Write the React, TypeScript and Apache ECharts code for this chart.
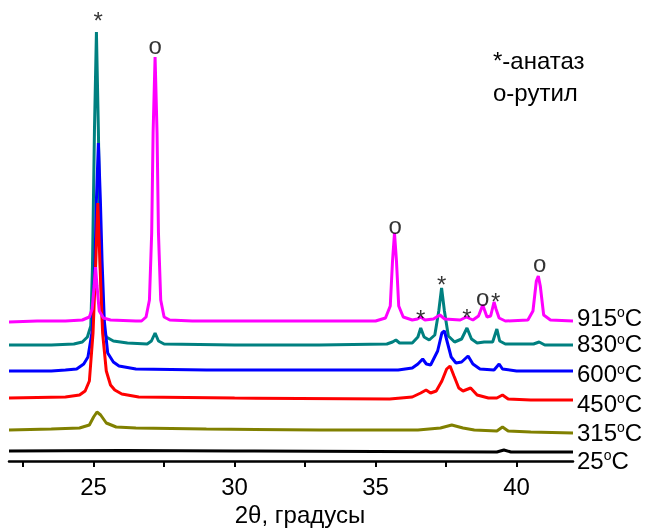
import React, { useEffect, useRef } from "react";
import * as echarts from "echarts";

// 2θ range and tick positions
const X_MIN = 22;
const X_MAX = 42;
const TICK_VALUES = [22.5, 25, 27.5, 30, 32.5, 35, 37.5, 40];
const LABEL_VALUES = [25, 30, 35, 40];

// Patterns: [2θ, intensity (arb. units)]
const p915: number[][] = [
  [22.0, 139], [23.0, 140], [24.0, 140], [24.6, 141], [24.85, 144], [24.95, 152], [25.02, 175], [25.07, 194],
  [25.12, 175], [25.2, 150], [25.35, 143], [25.6, 141], [26.5, 140], [26.7, 140], [26.86, 144], [26.98, 161],
  [27.06, 228], [27.11, 328], [27.18, 404], [27.25, 328], [27.3, 228], [27.38, 161], [27.5, 144], [27.7, 141],
  [28.5, 140], [31.0, 140], [34.0, 140], [35.0, 140], [35.35, 143], [35.52, 155], [35.6, 200], [35.67, 228],
  [35.74, 200], [35.82, 155], [35.98, 144], [36.3, 141], [36.48, 142], [36.6, 144], [36.75, 141], [37.05, 142],
  [37.28, 146], [37.45, 142], [38.0, 141], [38.22, 144], [38.45, 141], [38.65, 145], [38.8, 156], [38.95, 144],
  [39.08, 145], [39.2, 159], [39.27, 152], [39.38, 143], [39.6, 140], [40.4, 141], [40.58, 150], [40.7, 180],
  [40.77, 185], [40.84, 175], [40.96, 146], [41.2, 141], [42.0, 140],
];
const p830: number[][] = [
  [22.0, 116], [23.5, 116], [24.3, 117], [24.6, 119], [24.78, 124], [24.9, 135], [24.96, 194], [25.03, 330],
  [25.1, 429], [25.17, 330], [25.24, 194], [25.32, 135], [25.45, 124], [25.7, 120], [26.2, 118], [26.9, 117],
  [27.05, 120], [27.18, 128], [27.3, 120], [27.5, 117], [30.0, 116], [33.0, 116], [35.4, 117], [35.6, 119],
  [35.72, 121], [35.85, 118], [36.3, 118], [36.5, 124], [36.6, 133], [36.72, 124], [36.9, 121], [37.1, 126],
  [37.24, 150], [37.34, 173], [37.44, 150], [37.58, 125], [37.8, 119], [38.05, 122], [38.24, 133], [38.4, 122],
  [38.6, 118], [38.85, 119], [39.15, 119], [39.3, 132], [39.4, 120], [39.6, 117], [40.6, 117], [40.8, 119],
  [41.0, 116], [42.0, 116],
];
const p600: number[][] = [
  [22.0, 90], [23.5, 90], [24.0, 91], [24.4, 92], [24.65, 97], [24.8, 104], [24.95, 130], [25.05, 200],
  [25.1, 261], [25.17, 318], [25.24, 261], [25.3, 200], [25.38, 140], [25.5, 108], [25.7, 99], [25.9, 95],
  [26.5, 92], [29.0, 91], [33.0, 91], [35.8, 91], [36.3, 93], [36.5, 97], [36.67, 102], [36.8, 97],
  [36.95, 96], [37.2, 110], [37.35, 128], [37.44, 130], [37.55, 118], [37.68, 104], [37.85, 98], [38.05, 99],
  [38.28, 105], [38.45, 97], [38.7, 92], [39.2, 91], [39.38, 97], [39.5, 92], [40.0, 90], [42.0, 90],
];
const p450: number[][] = [
  [22.0, 63], [24.0, 64], [24.5, 66], [24.7, 70], [24.85, 80], [24.98, 128], [25.07, 194], [25.15, 258],
  [25.23, 194], [25.32, 128], [25.45, 90], [25.6, 76], [25.75, 71], [26.0, 67], [26.6, 64], [30.0, 63],
  [35.5, 62], [36.3, 64], [36.6, 68], [36.79, 71], [36.95, 68], [37.15, 70], [37.35, 80], [37.52, 92],
  [37.64, 95], [37.78, 85], [37.95, 73], [38.1, 70], [38.37, 73], [38.6, 66], [39.0, 63], [39.3, 63],
  [39.5, 66], [39.7, 62], [40.5, 61], [42.0, 61],
];
const p315: number[][] = [
  [22.0, 31], [23.5, 32], [24.5, 33], [24.85, 36], [25.0, 44], [25.12, 49], [25.25, 46], [25.45, 38],
  [25.8, 34], [26.5, 33], [29.0, 32], [33.0, 31], [36.5, 31], [37.3, 33], [37.7, 36], [38.1, 33],
  [38.5, 31], [39.3, 30], [39.5, 34], [39.7, 30], [40.5, 29], [42.0, 28],
];
const p25: number[][] = [
  [22.0, 10], [26.0, 10.5], [30.0, 10], [35.0, 9.5], [39.3, 9], [39.55, 11], [39.8, 9], [42.0, 9],
];

const SERIES_NAMES = ["25", "315", "830", "600", "450", "915"];
const SERIES_DATA = [p25, p315, p830, p600, p450, p915];
const SERIES_COLORS = ["#000000", "#808000", "#008080", "#0000ff", "#ff0000", "#ff00ff"];
const LABEL_DY = [8, -1, -1.5, 2.5, 3, -4];

// Peak marks: [2θ, height, symbol]
const MARKS: (number | string)[][] = [
  [25.16, 441, "*"], [27.18, 416, "o"], [35.69, 236, "o"], [36.6, 143, "*"], [37.34, 177, "*"],
  [38.24, 144, "*"], [38.8, 164, "o"], [39.26, 160, "*"], [40.82, 198, "o"],
];

const LEGEND_LINES = ["*-анатаз", "о-рутил"];
const AXIS_NAME = "2θ, градусы";

const FONT = "'Liberation Sans', Arial, sans-serif";

export default function App() {
  const ref = useRef<HTMLDivElement>(null);
  useEffect(() => {
    if (!ref.current) return;
    const chart = echarts.init(ref.current, undefined, { renderer: "svg" });
    const lineSeries = SERIES_DATA.map((d, i) => ({
      type: "line",
      name: SERIES_NAMES[i],
      data: d,
      symbol: "none",
      smooth: false,
      lineStyle: { color: SERIES_COLORS[i], width: 3 },
      itemStyle: { color: SERIES_COLORS[i] },
      z: 2 + i,
      endLabel: {
        show: true,
        distance: 0,
        offset: [4, LABEL_DY[i]],
        formatter: () => `{n|${SERIES_NAMES[i]}}{s|o}{n|C}`,
        rich: {
          n: { fontSize: 24, fontFamily: FONT, color: "#000" },
          s: { fontSize: 14, fontFamily: FONT, color: "#000", verticalAlign: "top" },
        },
      },
    }));
    chart.setOption({
      animation: false,
      grid: { left: 9, right: 76, top: 10, bottom: 68, containLabel: false, outerBoundsMode: "none" },
      xAxis: {
        type: "value",
        min: X_MIN,
        max: X_MAX,
        name: AXIS_NAME,
        nameLocation: "middle",
        nameGap: 40,
        nameTextStyle: { fontSize: 24, fontFamily: FONT, color: "#000", padding: [0, 0, 0, 18] },
        axisLine: { show: true, onZero: false, lineStyle: { color: "#000", width: 2.5 } },
        axisTick: { show: true, length: 6, inside: false, lineStyle: { color: "#000", width: 2 }, customValues: TICK_VALUES },
        axisLabel: { fontSize: 24, fontFamily: FONT, color: "#000", margin: 13, customValues: LABEL_VALUES },
        splitLine: { show: false },
      },
      yAxis: { type: "value", min: 0, max: 451, show: false, splitLine: { show: false } },
      series: [
        ...lineSeries,
        {
          type: "scatter",
          data: MARKS,
          symbolSize: 1,
          clip: false,
          z: 20,
          itemStyle: { color: "rgba(0,0,0,0)" },
          label: {
            show: true,
            position: "inside",
            formatter: (p: any) => p.data[2],
            fontSize: 24,
            fontFamily: FONT,
            color: "#000",
          },
        },
      ],
      graphic: LEGEND_LINES.map((t, i) => ({
        type: "text",
        left: 493,
        top: 48 + i * 32,
        style: { text: t, fontSize: 24, fontFamily: FONT, fill: "#000" },
      })),
    });
    return () => chart.dispose();
  }, []);
  return <div ref={ref} style={{ position: "fixed", left: 0, top: 0, width: 649, height: 529 }} />;
}
